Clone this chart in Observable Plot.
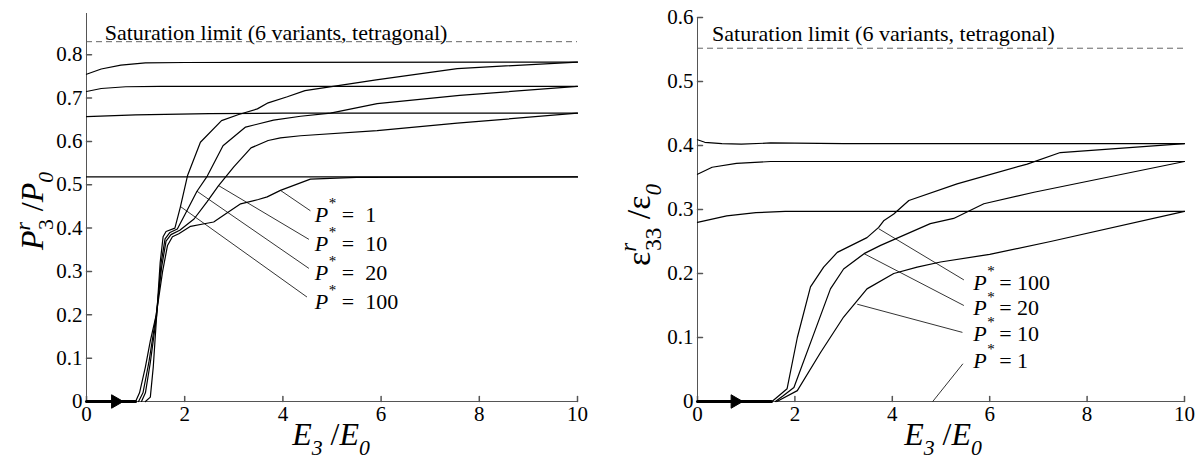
<!DOCTYPE html>
<html><head><meta charset="utf-8">
<script src="https://cdn.jsdelivr.net/npm/d3@7"></script>
<script src="https://cdn.jsdelivr.net/npm/@observablehq/plot@0.6"></script>
<style>
body{margin:0;background:#fff;}
#row{display:flex;width:1201px;height:460px;overflow:hidden;}
#row svg{flex:none;}
</style></head><body><div id="row"></div>
<script>
// ---------- ticks ----------
const xTicks = [0, 2, 4, 6, 8, 10];
const leftYTicks = [0, 0.1, 0.2, 0.3, 0.4, 0.5, 0.6, 0.7, 0.8];
const rightYTicks = [0, 0.1, 0.2, 0.3, 0.4, 0.5, 0.6];
const pStar = [1, 10, 20, 100];

// ---------- left panel (P3r/P0) ----------
const leftRiseP1 = [[1.0,0],[1.08,0.02],[1.2,0.08],[1.3,0.14],[1.42,0.2],[1.55,0.3],[1.65,0.36],[1.75,0.38],[1.88,0.387],[2.12,0.404],[2.4,0.41],[2.59,0.414],[2.8,0.43],[3.14,0.456],[3.5,0.466],[3.68,0.472],[3.95,0.487],[4.56,0.513],[5.5,0.517],[10,0.518]];
const leftRiseP10 = [[1.06,0],[1.15,0.02],[1.27,0.09],[1.42,0.2],[1.53,0.31],[1.62,0.37],[1.72,0.385],[1.9,0.395],[2.19,0.421],[2.45,0.46],[2.69,0.498],[3.0,0.541],[3.35,0.585],[3.7,0.602],[3.95,0.608],[4.36,0.613],[5.92,0.625],[7.55,0.642],[10,0.665]];
const leftRiseP20 = [[1.12,0],[1.2,0.02],[1.3,0.09],[1.43,0.2],[1.52,0.32],[1.6,0.375],[1.7,0.39],[1.85,0.398],[2.0,0.43],[2.25,0.485],[2.46,0.52],[2.78,0.59],[3.24,0.633],[3.81,0.649],[4.36,0.658],[4.97,0.665],[5.92,0.687],[7.6,0.706],[10,0.727]];
const leftRiseP100 = [[1.2,0],[1.3,0.01],[1.36,0.08],[1.43,0.2],[1.5,0.32],[1.56,0.38],[1.62,0.392],[1.8,0.4],[1.91,0.448],[2.06,0.522],[2.32,0.598],[2.75,0.648],[3.1,0.662],[3.48,0.675],[3.7,0.689],[4.09,0.703],[4.45,0.717],[5.9,0.742],[7.55,0.768],[10,0.783]];
const leftFlatP1 = [[0,0.518],[10,0.518]];
const leftFlatP10 = [[0,0.657],[1,0.661],[2.5,0.664],[4,0.665],[10,0.665]];
const leftFlatP20 = [[0,0.715],[0.3,0.722],[0.8,0.726],[1.5,0.727],[10,0.727]];
const leftFlatP100 = [[0,0.755],[0.3,0.767],[0.7,0.776],[1.2,0.781],[2,0.782],[10,0.783]];
const leftBase = [[0,0],[1.0,0]];
const leftArrowX = [0.59];
const leftSaturation = 0.83;
const leftSatLabel = {x: 0.37, y: 0.835, text: "Saturation limit (6 variants, tetragonal)"};
const leftLabelX = [4.65, 4.65, 4.65, 4.65];
const leftLabelY = [0.431, 0.3645, 0.2976, 0.2307];
const leftLeaderFrom = [[3.95,0.487],[2.69,0.498],[2.25,0.485],[1.91,0.45]];
const leftLeaderTo = [[4.56,0.44],[4.53,0.374],[4.53,0.307],[4.49,0.241]];

// ---------- right panel (eps33r/eps0) ----------
const rightRiseP10 = [[1.63,0],[2.05,0.017],[2.53,0.077],[3.0,0.132],[3.48,0.176],[4.03,0.2],[4.51,0.21],[4.99,0.218],[6.0,0.23],[7.25,0.25],[10,0.297]];
const rightRiseP20 = [[1.6,0],[1.76,0.009],[1.98,0.022],[2.39,0.106],[2.73,0.176],[3.0,0.207],[3.42,0.231],[3.76,0.244],[4.78,0.278],[5.26,0.286],[5.88,0.309],[6.91,0.327],[10,0.375]];
const rightRiseP100 = [[1.53,0],[1.67,0.009],[1.84,0.02],[2.05,0.1],[2.32,0.179],[2.59,0.21],[2.87,0.233],[3.48,0.256],[3.72,0.272],[3.83,0.283],[4.03,0.293],[4.34,0.314],[5.33,0.34],[6.77,0.371],[7.45,0.389],[10,0.403]];
const rightFlatP10 = [[0,0.28],[0.6,0.29],[1.2,0.295],[1.8,0.297],[10,0.297]];
const rightFlatP20 = [[0,0.355],[0.3,0.366],[0.8,0.372],[1.5,0.375],[10,0.375]];
const rightFlatP100 = [[0,0.409],[0.15,0.405],[0.5,0.403],[0.9,0.402],[1.5,0.404],[3,0.403],[10,0.403]];
const rightBase = [[0,0],[1.52,0]];
const rightArrowX = [0.77];
const rightSaturation = 0.552;
const rightSatLabel = {x: 0.30, y: 0.564, text: "Saturation limit (6 variants, tetragonal)"};
const rightLabelP = [100, 20, 10, 1];
const rightLabelX = [5.66, 5.66, 5.66, 5.66];
const rightLabelY = [0.186, 0.146, 0.106, 0.064];
const rightLeaderFrom = [[3.72,0.27],[3.42,0.231],[3.28,0.152],[4.83,0]];
const rightLeaderTo = [[5.47,0.19],[5.47,0.15],[5.44,0.108],[5.45,0.059]];

// ---------- helpers ----------
const FONT = "Liberation Serif, 'Times New Roman', serif";
const AXIS = "#555";
const toRows = (pts, series) => pts.map(([x, y]) => ({x, y, series}));
const tickShape = {draw(ctx, l) { ctx.moveTo(0, 0); ctx.lineTo(0, -l); }};
const fmt = d => d === 0 ? "0" : String(d);

function mathLabel(svg, x, y, rot, size, parts) {
  const t = d3.select(svg).append("text")
    .attr("transform", `translate(${x},${y}) rotate(${rot})`)
    .attr("text-anchor", "middle")
    .attr("font-family", FONT)
    .attr("font-size", size)
    .attr("fill", "black");
  let cur = 0;
  for (const p of parts) {
    const target = p.pos === "sup" ? -0.42 * size : p.pos === "sub" ? 0.32 * size : 0;
    const ts = t.append("tspan").text(p.t).attr("dy", target - cur);
    cur = target;
    if (p.pos) ts.attr("font-size", size * 0.68);
    if (p.italic) ts.attr("font-style", "italic");
    if (p.dx) ts.attr("dx", p.dx);
  }
}

function panel({width, marginLeft, marginRight, marginTop, yDomain, yTicks, rises, flats, base, arrowX, saturation, satLabel, labels, leaders, spaced}) {
  const rows = [];
  rises.forEach((pts, i) => rows.push(...toRows(pts, "rise" + i)));
  flats.forEach((pts, i) => rows.push(...toRows(pts, "flat" + i)));
  return Plot.plot({
    width, height: 460, marginLeft, marginRight, marginTop, marginBottom: 59,
    x: {domain: [0, 10]},
    y: {domain: yDomain},
    style: {fontFamily: FONT, fontSize: "21px", background: "white", color: "black", overflow: "visible"},
    marks: [
      Plot.ruleY([saturation], {stroke: "#666", strokeDasharray: "6,4", strokeWidth: 1}),
      Plot.text([satLabel], {x: "x", y: "y", text: "text", textAnchor: "start", lineAnchor: "bottom", fontSize: 22}),
      Plot.ruleX([0], {stroke: AXIS, strokeWidth: 1}),
      Plot.ruleY([0], {stroke: AXIS, strokeWidth: 1}),
      Plot.vector(xTicks, {x: d => d, y: yDomain[0], length: 5, rotate: 0, anchor: "start", shape: tickShape, stroke: AXIS}),
      Plot.vector(yTicks, {x: 0, y: d => d, length: 5, rotate: 90, anchor: "start", shape: tickShape, stroke: AXIS}),
      Plot.axisX({ticks: xTicks, tickSize: 0, tickPadding: 5, tickFormat: fmt, label: null, fontSize: 21}),
      Plot.axisY({ticks: yTicks, tickSize: 0, tickPadding: 4, tickFormat: fmt, label: null, fontSize: 21}),
      Plot.line(rows, {x: "x", y: "y", z: "series", stroke: "black", strokeWidth: 1.2}),
      Plot.line(toRows(base, "base"), {x: "x", y: "y", stroke: "black", strokeWidth: 3}),
      Plot.dot(arrowX, {x: d => d, y: 0, symbol: "triangle", rotate: 90, r: 5, fill: "black", stroke: "black", strokeWidth: 1}),
      Plot.link(leaders.from.map((f, i) => ({f, t: leaders.to[i]})), {x1: d => d.f[0], y1: d => d.f[1], x2: d => d.t[0], y2: d => d.t[1], stroke: "black", strokeWidth: 0.8}),
      Plot.text(labels, {x: "x", y: "y", text: () => "P", fontStyle: "italic", textAnchor: "start", lineAnchor: "middle", fontSize: 22}),
      Plot.text(labels, {x: "x", y: "y", text: () => "*", textAnchor: "start", lineAnchor: "middle", fontSize: 15, dx: 14, dy: -11}),
      Plot.text(labels, {x: "x", y: "y", text: d => (spaced ? "=\u00a0\u00a0" : "=\u00a0") + d.p, textAnchor: "start", lineAnchor: "middle", fontSize: 22, dx: spaced ? 27 : 26})
    ]
  });
}

const row = document.getElementById("row");

const left = panel({
  width: 600, marginLeft: 86, marginRight: 23, marginTop: 13,
  yDomain: [0, 0.895], yTicks: leftYTicks,
  rises: [leftRiseP1, leftRiseP10, leftRiseP20, leftRiseP100],
  flats: [leftFlatP1, leftFlatP10, leftFlatP20, leftFlatP100],
  base: leftBase, arrowX: leftArrowX, saturation: leftSaturation, satLabel: leftSatLabel,
  labels: pStar.map((p, i) => ({p, x: leftLabelX[i], y: leftLabelY[i]})),
  leaders: {from: leftLeaderFrom, to: leftLeaderTo}, spaced: true
});
row.appendChild(left);
mathLabel(left, 43, 211, -90, 32, [
  {t: "P", italic: true}, {t: "r", italic: true, pos: "sup"}, {t: "3", pos: "sub", dx: -8},
  {t: "\u00a0/"}, {t: "P", italic: true}, {t: "0", italic: true, pos: "sub"}
]);
mathLabel(left, 331, 445, 0, 32, [
  {t: "E", italic: true}, {t: "3", italic: true, pos: "sub"},
  {t: "\u00a0/"}, {t: "E", italic: true}, {t: "0", italic: true, pos: "sub"}
]);

const right = panel({
  width: 601, marginLeft: 97, marginRight: 17, marginTop: 17,
  yDomain: [0, 0.6], yTicks: rightYTicks,
  rises: [rightRiseP10, rightRiseP20, rightRiseP100],
  flats: [rightFlatP10, rightFlatP20, rightFlatP100],
  base: rightBase, arrowX: rightArrowX, saturation: rightSaturation, satLabel: rightSatLabel,
  labels: rightLabelP.map((p, i) => ({p, x: rightLabelX[i], y: rightLabelY[i]})),
  leaders: {from: rightLeaderFrom, to: rightLeaderTo}, spaced: false
});
row.appendChild(right);
mathLabel(right, 50, 225, -90, 34, [
  {t: "\u03b5"}, {t: "r", italic: true, pos: "sup"}, {t: "33", pos: "sub", dx: -8},
  {t: "\u00a0/\u03b5"}, {t: "0", italic: true, pos: "sub"}
]);
mathLabel(right, 343, 445, 0, 32, [
  {t: "E", italic: true}, {t: "3", italic: true, pos: "sub"},
  {t: "\u00a0/"}, {t: "E", italic: true}, {t: "0", italic: true, pos: "sub"}
]);
</script></body></html>
